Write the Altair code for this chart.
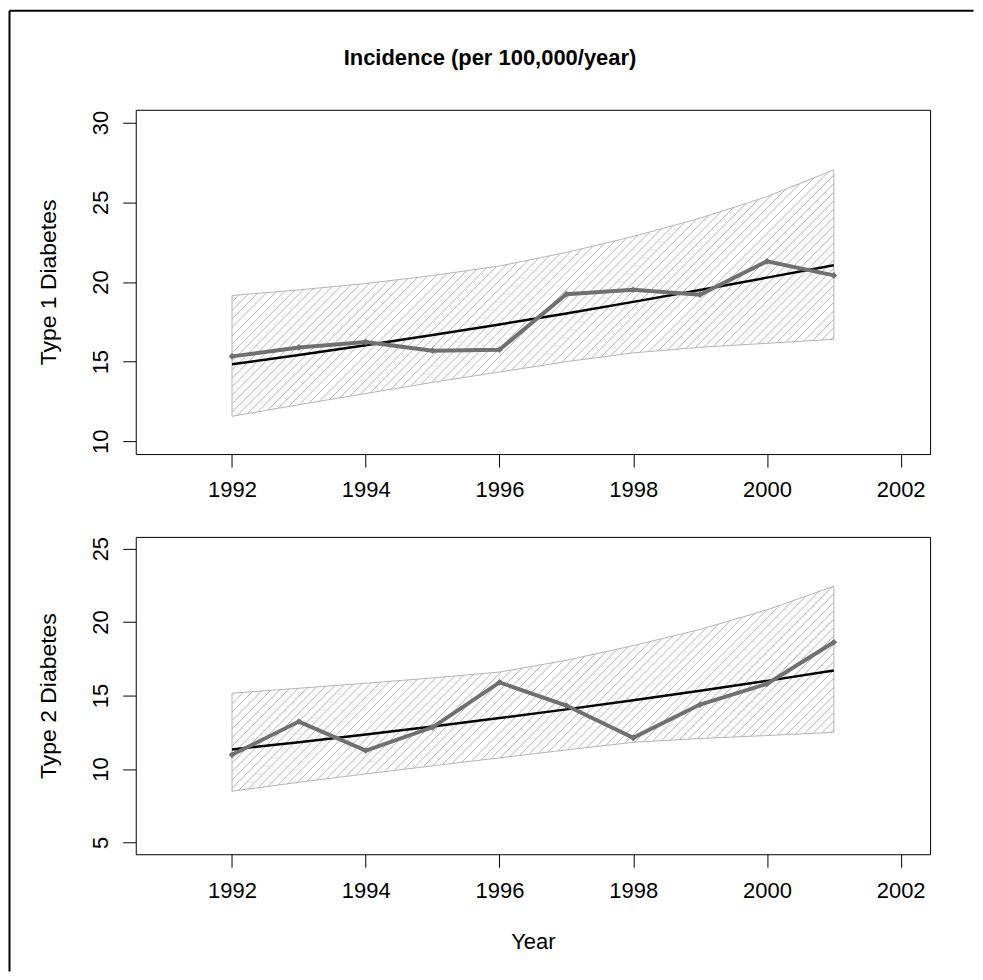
import math
import altair as alt
import pandas as pd

# ---------------- data ----------------
years = [1992, 1993, 1994, 1995, 1996, 1997, 1998, 1999, 2000, 2001]

t1_obs = [15.33, 15.89, 16.23, 15.69, 15.75, 19.23, 19.51, 19.20, 21.29, 20.41]
t1_fit = [14.83, 15.42, 16.03, 16.67, 17.33, 18.02, 18.75, 19.50, 20.27, 21.05]
t1_hi = [19.15, 19.50, 19.90, 20.40, 21.00, 21.85, 22.85, 24.00, 25.35, 27.03]
t1_lo = [11.57, 12.30, 13.00, 13.70, 14.35, 15.00, 15.55, 15.90, 16.15, 16.40]

t2_obs = [10.97, 13.23, 11.26, 12.84, 15.90, 14.32, 12.12, 14.39, 15.80, 18.63]
t2_fit = [11.33, 11.83, 12.35, 12.90, 13.47, 14.06, 14.68, 15.33, 16.00, 16.70]
t2_hi = [15.16, 15.50, 15.84, 16.20, 16.60, 17.40, 18.40, 19.50, 20.83, 22.44]
t2_lo = [8.49, 9.10, 9.67, 10.22, 10.76, 11.30, 11.82, 12.08, 12.28, 12.50]

x_ticks = [1992, 1994, 1996, 1998, 2000, 2002]
t1_ticks = [10, 15, 20, 25, 30]
t2_ticks = [5, 10, 15, 20, 25]

x_domain = [1990.56, 2002.44]
t1_domain = [9.2, 30.8]
t2_domain = [4.2, 25.8]

TITLE = "Incidence (per 100,000/year)"
Y1_TITLE = "Type 1 Diabetes"
Y2_TITLE = "Type 2 Diabetes"
X_TITLE = "Year"

# ---------------- style ----------------
FONT = "Liberation Sans"
WIDTH = 796
H1 = 345
H2 = 318
GAP = 83
GREY = "#707070"
HATCH_COLOR = "#b4b4b4"
HATCH_STEP = 8.5
FS = 22
FS_YTITLE = 23


def hatch_segments(lo, hi, ydom, height):
    sx = WIDTH / (x_domain[1] - x_domain[0])
    sy = height / (ydom[1] - ydom[0])
    X = [(y - x_domain[0]) * sx for y in years]
    U = [(ydom[1] - v) * sy for v in hi]
    L = [(ydom[1] - v) * sy for v in lo]
    fU = [a + b for a, b in zip(X, U)]
    fL = [a + b for a, b in zip(X, L)]

    def solve(f, c):
        for i in range(len(X) - 1):
            if f[i] <= c <= f[i + 1]:
                t = (c - f[i]) / (f[i + 1] - f[i])
                return X[i] + t * (X[i + 1] - X[i])
        return None

    rows = []
    c = math.ceil(min(fU) / HATCH_STEP) * HATCH_STEP
    while c < max(fL):
        xa = X[0] if fL[0] >= c else solve(fL, c)
        xb = X[-1] if fU[-1] <= c else solve(fU, c)
        if xa is not None and xb is not None and xb > xa:
            rows.append({
                "x1": x_domain[0] + xa / sx,
                "y1": ydom[1] - (c - xa) / sy,
                "x2": x_domain[0] + xb / sx,
                "y2": ydom[1] - (c - xb) / sy,
            })
        c += HATCH_STEP
    return pd.DataFrame(rows)


def panel(obs, fit, lo, hi, ydom, yticks, ytitle, height, xtitle, top=False):
    df = pd.DataFrame({"year": years, "obs": obs, "fit": fit, "lo": lo, "hi": hi})
    xs = alt.Scale(domain=x_domain, nice=False, zero=False)
    ys = alt.Scale(domain=ydom, nice=False, zero=False)

    xaxis_kw = dict(
        values=x_ticks, format="d", grid=False, domain=False,
        tickSize=13, tickColor="#000", tickWidth=1,
        labelFont=FONT, labelFontSize=FS, labelColor="#000",
        labelBaseline="middle", labelPadding=23, labelFlush=False, labelOverlap=False,
    )
    if xtitle:
        xaxis_kw.update(
            title=xtitle, titleFont=FONT, titleFontSize=FS, titleFontWeight="normal",
            titleColor="#000", titleX=WIDTH / 2, titleY=87,
            titleAlign="center", titleBaseline="middle",
        )
    else:
        xaxis_kw.update(title=None)
    xaxis = alt.Axis(**xaxis_kw)

    yaxis = alt.Axis(
        values=yticks, grid=False, domain=False,
        tickSize=13, tickColor="#000", tickWidth=1,
        labelFont=FONT, labelFontSize=FS, labelColor="#000",
        labelAngle=270, labelAlign="center", labelBaseline="middle",
        labelPadding=22, labelFlush=False, labelOverlap=False,
        title=ytitle, titleFont=FONT, titleFontSize=FS_YTITLE, titleFontWeight="normal",
        titleColor="#000", titleAngle=270, titleX=-87, titleY=height / 2,
        titleAlign="center", titleBaseline="middle",
    )

    def X(field):
        return alt.X(field, scale=xs, axis=xaxis)

    def Y(field):
        return alt.Y(field, scale=ys, axis=yaxis)

    base = alt.Chart(df)
    band = base.mark_area(fillOpacity=0, stroke=HATCH_COLOR, strokeWidth=1).encode(
        x=X("year:Q"), y=Y("hi:Q"), y2="lo:Q",
    )
    hdf = hatch_segments(lo, hi, ydom, height)
    hatch = alt.Chart(hdf).mark_rule(color=HATCH_COLOR, strokeWidth=1).encode(
        x=X("x1:Q"), x2="x2:Q", y=Y("y1:Q"), y2="y2:Q",
    )
    fit_line = base.mark_line(color="#000", strokeWidth=2.5).encode(
        x=X("year:Q"), y=Y("fit:Q"),
    )
    obs_line = base.mark_line(color=GREY, strokeWidth=4).encode(
        x=X("year:Q"), y=Y("obs:Q"),
    )
    obs_pts = base.mark_point(shape="diamond", filled=True, size=45, color=GREY, opacity=1).encode(
        x=X("year:Q"), y=Y("obs:Q"),
    )
    layers = [band, hatch, fit_line, obs_line, obs_pts]

    if top:
        one = pd.DataFrame({"t": [TITLE]})
        title = alt.Chart(one).mark_text(
            font=FONT, fontSize=22, fontWeight="bold", color="#000",
            align="center", baseline="middle",
        ).encode(x=alt.value(355), y=alt.value(-52), text="t:N")
        top_border = alt.Chart(one).mark_rule(color="#000", strokeWidth=2).encode(
            x=alt.value(-126.5), x2=alt.value(839.5), y=alt.value(-99.2)
        )
        left_border = alt.Chart(one).mark_rule(color="#000", strokeWidth=2).encode(
            x=alt.value(-126.5), y=alt.value(-99.2), y2=alt.value(863.5)
        )
        layers += [title, top_border, left_border]

    return alt.layer(*layers).properties(width=WIDTH, height=height)


p1 = panel(t1_obs, t1_fit, t1_lo, t1_hi, t1_domain, t1_ticks, Y1_TITLE, H1, None, top=True)
p2 = panel(t2_obs, t2_fit, t2_lo, t2_hi, t2_domain, t2_ticks, Y2_TITLE, H2, X_TITLE)

chart = (
    alt.vconcat(p1, p2, spacing=GAP, bounds="flush")
    .properties(padding=0, background="white")
    .configure_view(stroke="#000", strokeWidth=1)
)

chart.save("out.html", embed_options={"renderer": "svg", "actions": False})
